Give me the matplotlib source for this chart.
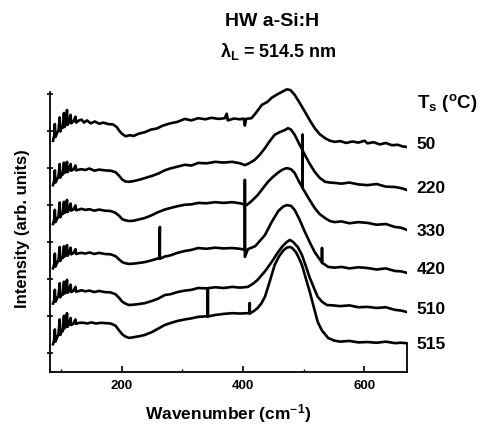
import matplotlib
matplotlib.use("Agg")
import matplotlib.pyplot as plt
import matplotlib.ticker as ticker

plt.rcParams["font.family"] = ["Liberation Sans", "DejaVu Sans"]
plt.rcParams["font.weight"] = "bold"
plt.rcParams["mathtext.fontset"] = "custom"
plt.rcParams["mathtext.rm"] = "Liberation Sans:bold"
plt.rcParams["mathtext.it"] = "Liberation Sans:bold"
plt.rcParams["mathtext.bf"] = "Liberation Sans:bold"

# ── Raman spectra (wavenumber cm-1, stacked intensity) ────
# repeated wavenumbers are the narrow spikes (plasma lines / cosmic rays)
wn_50 = [87, 89, 90, 91, 94, 96, 98, 99, 101, 103, 105, 106, 108, 110, 111, 113, 116, 117, 121, 124,
         125, 130, 134, 138, 143, 149, 156, 163, 170, 178, 186, 192, 197, 202, 207, 213, 220, 228, 238,
         248, 258, 268, 280, 292, 304, 315, 326, 338, 348, 360, 370, 373, 375, 385, 395, 401, 403, 405,
         414, 422, 431, 440, 447, 456, 464, 472, 478, 485, 493, 502, 510, 518, 526, 535, 543, 551, 560,
         570, 580, 590, 600, 605, 615, 625, 635, 645, 655, 662, 670]
int_50 = [6.25, 6.40, 6.70, 6.35, 6.48, 6.52, 6.88, 6.50, 6.62, 6.60, 7.00, 6.62, 6.70, 7.08, 6.68, 6.75,
          6.95, 6.72, 6.78, 6.90, 6.74, 6.80, 6.82, 6.74, 6.80, 6.72, 6.77, 6.71, 6.74, 6.70, 6.69, 6.62,
          6.50, 6.42, 6.37, 6.40, 6.38, 6.44, 6.48, 6.55, 6.58, 6.66, 6.72, 6.76, 6.84, 6.80, 6.86, 6.83,
          6.87, 6.84, 6.86, 6.98, 6.80, 6.85, 6.83, 6.85, 6.66, 6.84, 6.86, 7.02, 7.22, 7.30, 7.41, 7.50,
          7.57, 7.64, 7.62, 7.49, 7.28, 7.03, 6.80, 6.59, 6.43, 6.32, 6.25, 6.22, 6.24, 6.19, 6.23, 6.20,
          6.25, 6.18, 6.21, 6.15, 6.19, 6.13, 6.14, 6.10, 6.08]

wn_220 = [87, 89, 90, 91, 94, 96, 98, 99, 101, 103, 105, 106, 108, 110, 111, 113, 116, 117, 121, 124,
          125, 130, 134, 140, 147, 155, 163, 172, 182, 190, 196, 201, 206, 212, 220, 230, 238, 250, 260,
          271, 280, 292, 304, 315, 326, 340, 354, 368, 382, 395, 403, 410, 419, 428, 436, 444, 452, 460,
          469, 474, 479, 485, 493, 502, 510, 518, 526, 535, 543, 551, 562, 575, 590, 605, 620, 635, 650,
          660, 670]
int_220 = [5.05, 5.18, 5.45, 5.12, 5.22, 5.28, 5.62, 5.25, 5.35, 5.34, 5.66, 5.38, 5.42, 5.68, 5.40, 5.46,
           5.62, 5.44, 5.48, 5.58, 5.45, 5.47, 5.48, 5.46, 5.50, 5.44, 5.47, 5.45, 5.44, 5.40, 5.30, 5.20,
           5.15, 5.14, 5.16, 5.20, 5.24, 5.30, 5.36, 5.45, 5.50, 5.55, 5.60, 5.58, 5.65, 5.64, 5.68, 5.66,
           5.68, 5.64, 5.59, 5.64, 5.73, 5.88, 6.05, 6.24, 6.41, 6.48, 6.54, 6.59, 6.55, 6.41, 6.15, 5.86,
           5.62, 5.41, 5.25, 5.14, 5.12, 5.11, 5.09, 5.12, 5.07, 5.05, 5.08, 5.01, 5.00, 4.97, 4.92]

wn_330 = [87, 89, 90, 91, 94, 96, 98, 99, 101, 103, 105, 106, 108, 110, 111, 113, 116, 117, 121, 124,
          125, 130, 134, 140, 147, 155, 163, 172, 182, 190, 196, 201, 206, 212, 220, 230, 238, 250, 260,
          271, 280, 292, 304, 315, 326, 340, 354, 368, 382, 395, 406, 414, 424, 432, 441, 449, 457, 465,
          472, 479, 485, 492, 498, 498, 498, 502, 510, 518, 526, 535, 543, 551, 562, 575, 590, 605, 620,
          635, 650, 660, 670]
int_330 = [4.00, 4.12, 4.38, 4.05, 4.15, 4.20, 4.58, 4.18, 4.28, 4.27, 4.60, 4.30, 4.34, 4.65, 4.32, 4.38,
           4.55, 4.36, 4.40, 4.50, 4.37, 4.39, 4.41, 4.38, 4.40, 4.36, 4.39, 4.36, 4.35, 4.30, 4.22, 4.13,
           4.10, 4.08, 4.09, 4.13, 4.16, 4.24, 4.32, 4.39, 4.43, 4.48, 4.52, 4.53, 4.57, 4.56, 4.59, 4.57,
           4.59, 4.56, 4.51, 4.62, 4.78, 4.95, 5.14, 5.27, 5.38, 5.47, 5.51, 5.48, 5.38, 5.15, 4.98, 6.41,
           4.97, 4.86, 4.64, 4.43, 4.27, 4.16, 4.08, 4.05, 4.07, 4.02, 4.05, 4.03, 3.98, 4.00, 3.92, 3.90,
           3.84]

wn_420 = [87, 89, 90, 91, 94, 96, 98, 99, 101, 103, 105, 106, 108, 110, 111, 113, 116, 117, 121, 124,
          125, 130, 134, 140, 147, 155, 163, 172, 182, 190, 196, 201, 206, 212, 220, 230, 238, 250, 262,
          263, 263, 271, 280, 292, 304, 315, 326, 340, 354, 368, 382, 395, 403, 403, 403, 408, 414, 420,
          428, 436, 447, 458, 466, 472, 479, 485, 493, 502, 510, 518, 526, 530, 530, 530, 535, 540, 551,
          562, 575, 590, 605, 620, 635, 650, 660, 670]
int_420 = [2.80, 2.92, 3.20, 2.85, 2.96, 3.02, 3.38, 3.00, 3.10, 3.08, 3.40, 3.12, 3.16, 3.43, 3.14, 3.20,
           3.36, 3.18, 3.22, 3.32, 3.19, 3.21, 3.22, 3.20, 3.23, 3.19, 3.22, 3.19, 3.18, 3.13, 3.04, 2.97,
           2.94, 2.92, 2.93, 2.95, 2.97, 3.02, 3.08, 3.92, 3.06, 3.12, 3.15, 3.22, 3.27, 3.30, 3.35, 3.33,
           3.36, 3.34, 3.35, 3.33, 3.30, 5.19, 3.11, 3.32, 3.36, 3.40, 3.55, 3.70, 4.05, 4.35, 4.47, 4.51,
           4.49, 4.38, 4.12, 3.78, 3.50, 3.24, 3.05, 2.97, 3.35, 2.95, 2.90, 2.84, 2.82, 2.84, 2.80, 2.83,
           2.81, 2.77, 2.80, 2.73, 2.72, 2.68]

wn_510 = [87, 89, 90, 91, 94, 96, 98, 99, 101, 103, 105, 106, 108, 110, 111, 113, 116, 117, 121, 124,
          125, 130, 134, 140, 147, 155, 163, 172, 182, 190, 196, 201, 206, 212, 220, 230, 238, 250, 260,
          271, 280, 292, 304, 315, 326, 340, 354, 368, 382, 395, 408, 416, 424, 436, 447, 456, 464, 471,
          477, 482, 490, 497, 503, 510, 517, 523, 530, 538, 548, 560, 575, 590, 605, 620, 635, 650, 660,
          670]
int_510 = [1.85, 1.95, 2.22, 1.90, 2.00, 2.05, 2.40, 2.02, 2.10, 2.09, 2.44, 2.12, 2.16, 2.49, 2.14, 2.18,
           2.36, 2.16, 2.20, 2.30, 2.17, 2.19, 2.21, 2.18, 2.20, 2.16, 2.19, 2.16, 2.15, 2.10, 2.00, 1.90,
           1.85, 1.81, 1.82, 1.84, 1.86, 1.92, 1.98, 2.08, 2.10, 2.16, 2.20, 2.22, 2.27, 2.26, 2.29, 2.27,
           2.30, 2.28, 2.30, 2.38, 2.49, 2.72, 2.97, 3.20, 3.38, 3.50, 3.57, 3.52, 3.38, 3.16, 2.88, 2.54,
           2.26, 2.03, 1.90, 1.81, 1.80, 1.78, 1.80, 1.75, 1.76, 1.73, 1.75, 1.68, 1.66, 1.62]

wn_515 = [87, 89, 90, 91, 94, 96, 98, 99, 101, 103, 105, 106, 108, 110, 111, 113, 116, 117, 121, 124,
          125, 130, 137, 143, 150, 158, 166, 174, 182, 190, 196, 201, 206, 212, 220, 230, 238, 250, 260,
          271, 280, 292, 304, 315, 326, 336, 342, 342, 342, 354, 368, 382, 395, 408, 411, 411, 411, 418,
          424, 430, 436, 444, 452, 459, 466, 472, 477, 481, 487, 492, 497, 503, 510, 517, 523, 530, 540,
          550, 560, 575, 590, 605, 620, 635, 650, 660, 668]
int_515 = [0.75, 0.88, 1.15, 0.82, 0.95, 1.02, 1.42, 1.00, 1.12, 1.10, 1.52, 1.18, 1.24, 1.59, 1.22, 1.28,
           1.46, 1.27, 1.31, 1.42, 1.30, 1.33, 1.33, 1.31, 1.34, 1.31, 1.33, 1.32, 1.31, 1.25, 1.12, 1.02,
           0.96, 0.92, 0.94, 0.97, 1.00, 1.08, 1.17, 1.27, 1.32, 1.38, 1.42, 1.45, 1.49, 1.50, 1.51, 2.22,
           1.50, 1.54, 1.57, 1.59, 1.58, 1.59, 1.59, 1.86, 1.58, 1.65, 1.73, 1.85, 2.03, 2.45, 2.89, 3.12,
           3.28, 3.36, 3.38, 3.35, 3.24, 3.08, 2.89, 2.55, 2.16, 1.72, 1.35, 1.12, 0.92, 0.85, 0.82, 0.84,
           0.80, 0.81, 0.79, 0.82, 0.78, 0.79, 0.78]

temps = ["50", "220", "330", "420", "510", "515"]
label_y = [6.14, 4.95, 3.81, 2.76, 1.68, 0.73]

spectra = [(wn_50, int_50), (wn_220, int_220), (wn_330, int_330),
           (wn_420, int_420), (wn_510, int_510), (wn_515, int_515)]

fig = plt.figure(figsize=(4.82, 4.29), dpi=100)
ax = fig.add_axes([0.1037, 0.1329, 0.7407, 0.6684])

for wn, inten in spectra:
    ax.plot(wn, inten, color="black", linewidth=1.9, solid_joinstyle="round")

ax.set_xlim(82, 670)
ax.set_ylim(0, 7.75)

# frame: no top, partial right edge like the scan
ax.spines["top"].set_visible(False)
ax.spines["left"].set_bounds(0, 7.57)
ax.spines["right"].set_bounds(0, 0.78)
for s in ("left", "right", "bottom"):
    ax.spines[s].set_linewidth(1.3)

ax.xaxis.set_major_locator(ticker.FixedLocator([200, 400, 600]))
ax.xaxis.set_minor_locator(ticker.FixedLocator([100, 300, 500]))
ax.set_yticks([0.5, 1.5, 2.5, 3.5, 4.5, 5.5, 6.5, 7.5])
ax.set_yticklabels([])
ax.tick_params(axis="x", which="major", direction="in", length=4, width=1.2,
               labelsize=9.5, pad=6, top=False)
ax.tick_params(axis="x", which="minor", direction="in", length=2, width=1, top=False)
ax.tick_params(axis="y", direction="inout", length=4, width=1.2, right=False)
for lbl in ax.get_xticklabels():
    lbl.set_fontweight("bold")

ax.set_xlabel("Wavenumber (cm$^{-1}$)", fontsize=12.5, fontweight="bold", labelpad=7)
ax.set_ylabel("Intensity (arb. units)", fontsize=12, fontweight="bold", labelpad=9)

for t, y in zip(temps, label_y):
    ax.text(686, y, t, fontsize=12.5, fontweight="bold", ha="left", va="center", clip_on=False)
ax.text(686, 7.27, "T$_s$ ($^o$C)", fontsize=13.5, fontweight="bold", ha="left", va="center",
        clip_on=False)

fig.text(0.564, 0.949, "HW a-Si:H", fontsize=14, fontweight="bold", ha="center", va="center")
fig.text(0.578, 0.879, "λ$_L$ = 514.5 nm", fontsize=13, fontweight="bold", ha="center", va="center")

fig.savefig("out.png", dpi=100, facecolor="white")
plt.close(fig)
